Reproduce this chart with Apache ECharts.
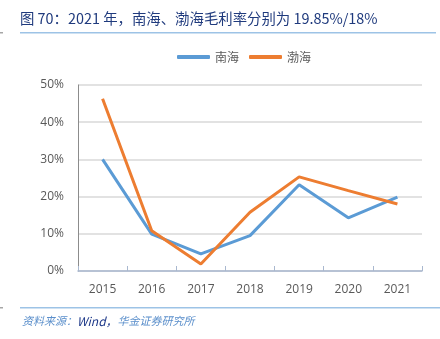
<!DOCTYPE html>
<html>
<head>
<meta charset="utf-8">
<script src="https://cdn.jsdelivr.net/npm/echarts@6/dist/echarts.min.js"></script>
<style>
html,body{margin:0;padding:0;background:#fff;}
#c{width:440px;height:339px;}
</style>
</head>
<body>
<div id="c"></div>
<script>
const categories = ['2015','2016','2017','2018','2019','2020','2021'];
const nanhai = [30.0, 9.9, 4.6, 9.5, 23.2, 14.3, 19.85];
const bohai = [46.3, 10.8, 1.9, 15.8, 25.3, 21.6, 18.0];
const yTicks = [0, 10, 20, 30, 40, 50];

const chart = echarts.init(document.getElementById('c'), null, {renderer: 'canvas'});
const font = '"Noto Sans CJK SC", "Noto Sans", sans-serif';
chart.setOption({
  animation: false,
  backgroundColor: '#fff',
  textStyle: {fontFamily: font},
  graphic: [
    {type: 'text', left: 20, top: 11, style: {text: '图 70：2021 年，南海、渤海毛利率分别为 19.85%/18%', fill: '#1F3A7D', font: '14.4px ' + font}},
    {type: 'rect', shape: {x: 20, y: 32, width: 416, height: 1.5}, style: {fill: '#9DC3E6'}},
    {type: 'rect', shape: {x: 0, y: 32, width: 3, height: 1.5}, style: {fill: '#A6A6A6'}},
    {type: 'rect', shape: {x: 20, y: 307, width: 420, height: 1.5}, style: {fill: '#9DC3E6'}},
    {type: 'rect', shape: {x: 0, y: 307, width: 3, height: 1.5}, style: {fill: '#A6A6A6'}},
    {type: 'text', left: 22, top: 315, style: {
      rich: {
        a: {fill: '#5B8FCB', font: 'italic 11px ' + font},
        b: {fill: '#1F3A8A', font: 'italic 12px ' + font}
      },
      text: '{a|资料来源：}{b|Wind，}{a|华金证券研究所}'
    }}
  ],
  legend: {
    top: 46,
    left: 172,
    itemWidth: 33,
    itemHeight: 4,
    itemGap: 10,
    textStyle: {color: '#595959', fontSize: 12, fontFamily: font},
    data: [
      {name: '南海', icon: 'roundRect'},
      {name: '渤海', icon: 'roundRect'}
    ]
  },
  grid: {left: 78, right: 18, top: 85, bottom: 68, containLabel: false},
  xAxis: {
    type: 'category',
    data: categories,
    boundaryGap: true,
    axisLine: {lineStyle: {color: '#A9B8CF', width: 1.5}},
    axisTick: {show: true, inside: true, length: 5, lineStyle: {color: '#A9B8CF'}},
    axisLabel: {color: '#595959', fontSize: 12, margin: 13, fontFamily: '"Open Sans", "Noto Sans", sans-serif'}
  },
  yAxis: {
    type: 'value',
    min: 0, max: 50, interval: 10,
    axisLine: {show: true, lineStyle: {color: '#8C8C8C'}},
    axisTick: {show: false},
    splitLine: {lineStyle: {color: '#D9D9D9', width: 1.5}},
    axisLabel: {color: '#595959', fontSize: 12, margin: 14, fontFamily: '"Open Sans", "Noto Sans", sans-serif',
      formatter: v => yTicks.includes(v) ? v + '%' : ''}
  },
  series: [
    {name: '南海', type: 'line', data: nanhai, symbol: 'none', lineStyle: {color: '#5B9BD5', width: 3}, itemStyle: {color: '#5B9BD5'}},
    {name: '渤海', type: 'line', data: bohai, symbol: 'none', lineStyle: {color: '#ED7D31', width: 3}, itemStyle: {color: '#ED7D31'}}
  ]
});
</script>
</body>
</html>
